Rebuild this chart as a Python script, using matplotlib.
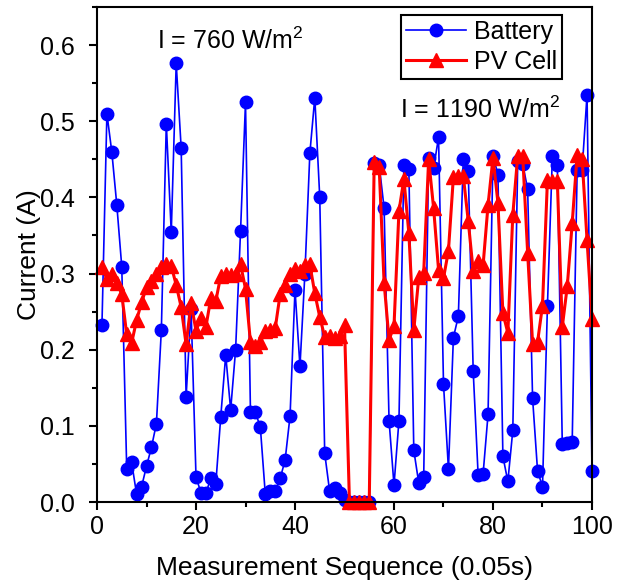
import numpy as np
import matplotlib
matplotlib.use('Agg')
import matplotlib.pyplot as plt
from matplotlib.ticker import MultipleLocator

plt.rcParams['font.family'] = ['Liberation Sans', 'DejaVu Sans']
plt.rcParams['mathtext.fontset'] = 'custom'
plt.rcParams['mathtext.rm'] = 'Liberation Sans'

# Corriente medida en cada muestra (100 muestras, paso 0.05 s)
secuencia = np.arange(1, 101)

bateria = [0.233, 0.510, 0.459, 0.390, 0.309, 0.044, 0.052, 0.010, 0.020, 0.047,
           0.072, 0.103, 0.226, 0.497, 0.354, 0.576, 0.465, 0.138, 0.254, 0.033,
           0.012, 0.012, 0.031, 0.024, 0.112, 0.193, 0.121, 0.200, 0.356, 0.525,
           0.118, 0.118, 0.098, 0.010, 0.014, 0.014, 0.031, 0.055, 0.113, 0.279,
           0.178, 0.300, 0.458, 0.531, 0.400, 0.064, 0.014, 0.018, 0.012, 0.003,
           0.000, 0.000, 0.000, 0.000, 0.000, 0.445, 0.443, 0.386, 0.107, 0.022,
           0.107, 0.443, 0.437, 0.068, 0.025, 0.033, 0.452, 0.438, 0.479, 0.155,
           0.043, 0.216, 0.244, 0.451, 0.435, 0.172, 0.035, 0.037, 0.115, 0.455,
           0.430, 0.060, 0.027, 0.094, 0.448, 0.444, 0.411, 0.136, 0.041, 0.020,
           0.258, 0.455, 0.442, 0.076, 0.077, 0.079, 0.436, 0.436, 0.535, 0.041]

celda_pv = [0.308, 0.293, 0.300, 0.288, 0.273, 0.220, 0.209, 0.239, 0.262, 0.282,
            0.290, 0.300, 0.308, 0.312, 0.310, 0.285, 0.256, 0.207, 0.261, 0.225,
            0.241, 0.230, 0.268, 0.264, 0.297, 0.299, 0.298, 0.300, 0.312, 0.280,
            0.210, 0.205, 0.210, 0.224, 0.226, 0.228, 0.273, 0.285, 0.300, 0.306,
            0.303, 0.311, 0.312, 0.274, 0.243, 0.217, 0.218, 0.216, 0.218, 0.232,
            0.000, 0.000, 0.000, 0.000, 0.000, 0.447, 0.440, 0.288, 0.213, 0.231,
            0.382, 0.424, 0.353, 0.226, 0.295, 0.301, 0.450, 0.386, 0.305, 0.294,
            0.330, 0.427, 0.428, 0.428, 0.369, 0.303, 0.316, 0.311, 0.390, 0.452,
            0.393, 0.248, 0.222, 0.377, 0.455, 0.455, 0.327, 0.208, 0.210, 0.258,
            0.423, 0.421, 0.421, 0.230, 0.283, 0.366, 0.456, 0.451, 0.344, 0.240]

fig = plt.figure(figsize=(6.32, 5.83), dpi=100)
ax = fig.add_axes([0.1535, 0.1389, 0.7832, 0.8491])

ax.plot(secuencia, bateria, color='#0000ff', linewidth=1.2, marker='o',
        markersize=9, label='Battery', clip_on=False)
ax.plot(secuencia, celda_pv, color='#ff0000', linewidth=2.2, marker='^',
        markersize=10, label='PV Cell', clip_on=False)

ax.set_xlim(0, 100)
ax.set_ylim(0, 0.65)
ax.xaxis.set_major_locator(MultipleLocator(20))
ax.xaxis.set_minor_locator(MultipleLocator(10))
ax.yaxis.set_major_locator(MultipleLocator(0.1))
ax.yaxis.set_minor_locator(MultipleLocator(0.05))
ax.yaxis.set_major_formatter(matplotlib.ticker.FormatStrFormatter('%.1f'))

for lado in ax.spines.values():
    lado.set_linewidth(1.5)
ax.tick_params(which='major', direction='out', length=6, width=1.5, labelsize=18)
ax.tick_params(which='minor', direction='out', length=3.5, width=1.5)
ax.tick_params(axis='y', which='major', pad=10)

ax.set_xlabel('Measurement Sequence (0.05s)', fontsize=19, labelpad=12)
ax.set_ylabel('Current (A)', fontsize=19, labelpad=-1)

ax.text(12.1, 0.605, 'I = 760 W/m$^\\mathregular{2}$', fontsize=18, va='center')
ax.text(61.2, 0.515, 'I = 1190 W/m$^\\mathregular{2}$', fontsize=18, va='center')

leg = ax.legend(loc='upper right', bbox_to_anchor=(0.939, 0.984), borderaxespad=0,
                fontsize=18, fancybox=False, framealpha=1, edgecolor='black',
                handlelength=2.4, handletextpad=0.3, borderpad=0.2, labelspacing=0.25)
leg.get_frame().set_linewidth(1.5)

plt.savefig('out.png', dpi=100)
